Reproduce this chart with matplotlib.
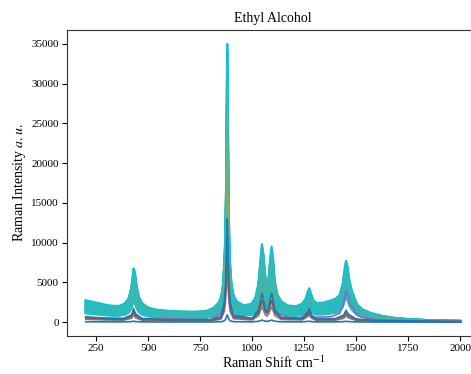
import matplotlib
matplotlib.use('Agg')
import matplotlib.pyplot as plt
import numpy as np

# Upper envelope of the spectra (Raman shift, intensity)
shift = [200, 225, 250, 270, 285, 300, 330, 360, 385, 405, 418, 425, 430, 436,
         444, 455, 470, 495, 530, 580, 650, 720, 780, 815, 840, 852, 860, 866,
         871, 875, 878, 880, 882, 885, 889, 894, 900, 910, 925, 960, 995, 1015,
         1030, 1040, 1047, 1054, 1062, 1070, 1078, 1086, 1093, 1100, 1108, 1120,
         1140, 1170, 1210, 1240, 1258, 1268, 1274, 1281, 1292, 1310, 1340, 1375,
         1400, 1420, 1435, 1445, 1451, 1458, 1467, 1478, 1492, 1505, 1530, 1570,
         1620, 1680, 1750, 1850, 1950, 2000]
top_intensity = [2750, 2600, 2450, 2350, 2250, 2150, 2050, 2050, 2300, 2900,
                 4200, 5600, 6750, 6300, 4600, 3200, 2400, 1900, 1600, 1450,
                 1350, 1300, 1400, 1800, 2500, 3300, 4800, 7500, 11000, 18000,
                 28000, 35000, 29000, 19000, 11000, 7000, 4800, 3400, 2600, 2100,
                 2300, 3000, 4800, 7800, 9800, 8500, 6000, 4700, 5200, 7800, 9500,
                 8000, 5200, 3500, 2600, 2100, 2000, 2300, 3000, 3900, 4250, 3700,
                 2800, 2400, 2450, 2700, 2950, 3400, 4800, 6800, 7700, 7000, 5200,
                 4000, 3000, 2200, 1600, 1150, 800, 550, 380, 250, 180, 160]

# relative strength of each spectrum in the dense band
band_scales = [0.40, 0.42, 0.44, 0.46, 0.48, 0.50, 0.52, 0.55, 0.58, 0.61, 0.64,
               0.67, 0.70, 0.73, 0.76, 0.79, 0.82, 0.85, 0.88, 0.91, 0.94, 0.97, 1.0]
speckle_scales = [0.45, 0.52, 0.6, 0.68, 0.76, 0.84, 0.92]

# the strongest of the weak spectra below the band (blue, 880 peak ~13000)
low_shift = [200, 300, 380, 420, 430, 440, 470, 600, 800, 850, 866, 872, 877,
             880, 883, 888, 894, 910, 1000, 1030, 1047, 1062, 1070, 1078, 1093,
             1110, 1140, 1240, 1268, 1274, 1285, 1310, 1400, 1440, 1451, 1462,
             1500, 1600, 2000]
low_intensity = [670, 500, 450, 900, 1700, 1000, 450, 300, 300, 700, 2500, 5000,
                 10000, 13000, 10000, 5000, 2500, 800, 500, 1500, 3600, 1800, 1400,
                 1800, 3600, 1500, 600, 500, 1300, 1700, 900, 400, 450, 900, 1500,
                 1000, 400, 200, 80]
low_scales = [0.54, 0.77, 1.0, 0.07]

# one spectrum with a relatively strong 1450 band
purple_shift = [200, 400, 425, 432, 445, 470, 800, 860, 872, 880, 888, 900, 1000,
                1035, 1047, 1070, 1093, 1110, 1200, 1262, 1274, 1290, 1380, 1420,
                1438, 1451, 1462, 1472, 1482, 1495, 1520, 1600, 1800, 2000]
purple_intensity = [550, 450, 900, 1300, 900, 450, 300, 1200, 3500, 6000, 3500,
                    1000, 400, 1500, 2600, 1300, 2500, 1200, 400, 800, 1300, 600,
                    700, 1100, 2200, 4000, 3300, 2200, 1900, 1200, 700, 300, 150, 100]

plt.rcParams['font.family'] = ['Liberation Serif', 'DejaVu Serif']
plt.rcParams['mathtext.fontset'] = 'stix'

x = np.array(shift)
y = np.array(top_intensity)
lx = np.array(low_shift)
ly = np.array(low_intensity)

fig = plt.figure(figsize=(4.71, 3.74), dpi=100)
ax = fig.add_axes([0.1423, 0.1016, 0.8747, 0.818])

for s in band_scales:
    ax.plot(x, s * y, color='#17becf', linewidth=1.6)
for i, s in enumerate(speckle_scales):
    ax.plot(x, s * y, color=['#bcbd22', '#ff7f0e'][i % 2], linewidth=0.6, alpha=0.7,
            linestyle=(0, (1, 3)))

ax.plot(purple_shift, purple_intensity, color='#9467bd', linewidth=1.2)
low_colors = ['#7f7f7f', '#8c564b', '#1f77b4', '#1f77b4']
for s, c in zip(low_scales, low_colors):
    ax.plot(lx, s * ly, color=c, linewidth=1.2)

ax.set_title('Ethyl Alcohol', fontsize=10)
ax.set_xlabel('Raman Shift cm$^{-1}$', fontsize=10, labelpad=1)
ax.set_ylabel('Raman Intensity $a.u.$', fontsize=10, labelpad=2)
ax.tick_params(labelsize=8, pad=2.5)
for sp in ax.spines.values():
    sp.set_color('#333333')

fig.savefig('out.png', dpi=100)
